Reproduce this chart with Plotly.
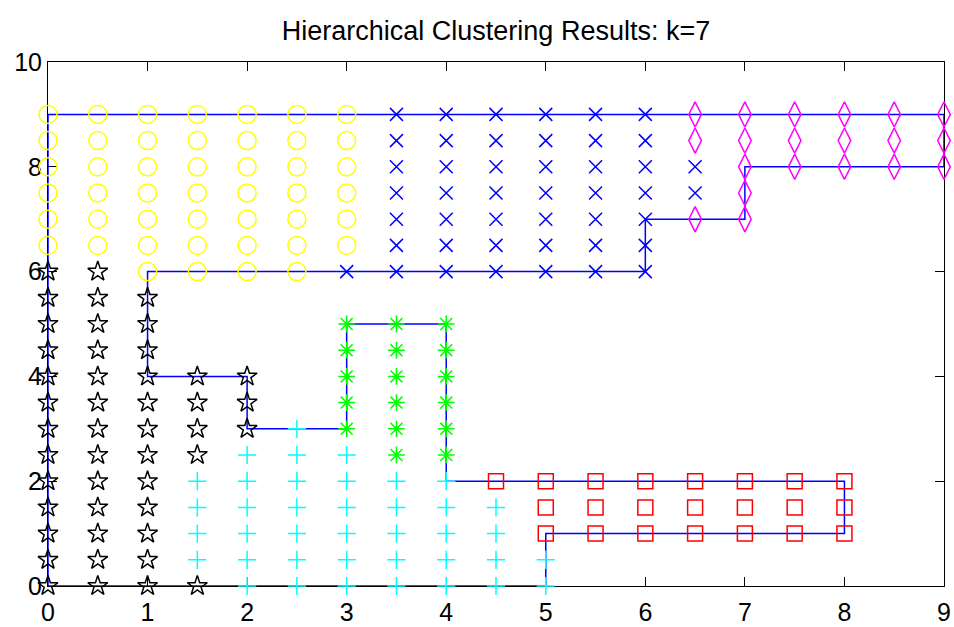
import plotly.graph_objects as go

# ---- data: each cluster given as columns  x -> list of y values ----
yellow_x = [0, 0.5, 1, 1.5, 2, 2.5, 3]
yellow_y = [
    [6.5, 7, 7.5, 8, 8.5, 9],
    [6.5, 7, 7.5, 8, 8.5, 9],
    [6, 6.5, 7, 7.5, 8, 8.5, 9],
    [6, 6.5, 7, 7.5, 8, 8.5, 9],
    [6, 6.5, 7, 7.5, 8, 8.5, 9],
    [6, 6.5, 7, 7.5, 8, 8.5, 9],
    [6.5, 7, 7.5, 8, 8.5, 9],
]

black_x = [0, 0.5, 1, 1.5, 2]
black_y = [
    [0, 0.5, 1, 1.5, 2, 2.5, 3, 3.5, 4, 4.5, 5, 5.5, 6],
    [0, 0.5, 1, 1.5, 2, 2.5, 3, 3.5, 4, 4.5, 5, 5.5, 6],
    [0, 0.5, 1, 1.5, 2, 2.5, 3, 3.5, 4, 4.5, 5, 5.5],
    [0, 2.5, 3, 3.5, 4],
    [3, 3.5, 4],
]

cyan_x = [1.5, 2, 2.5, 3, 3.5, 4, 4.5, 5]
cyan_y = [
    [0.5, 1, 1.5, 2],
    [0, 0.5, 1, 1.5, 2, 2.5],
    [0, 0.5, 1, 1.5, 2, 2.5, 3],
    [0, 0.5, 1, 1.5, 2, 2.5],
    [0, 0.5, 1, 1.5, 2],
    [0, 0.5, 1, 1.5, 2],
    [0, 0.5, 1, 1.5],
    [0, 0.5],
]

green_x = [3, 3.5, 4]
green_y = [
    [3, 3.5, 4, 4.5, 5],
    [2.5, 3, 3.5, 4, 4.5, 5],
    [2.5, 3, 3.5, 4, 4.5, 5],
]

red_x = [4.5, 5, 5.5, 6, 6.5, 7, 7.5, 8]
red_y = [
    [2],
    [1, 1.5, 2],
    [1, 1.5, 2],
    [1, 1.5, 2],
    [1, 1.5, 2],
    [1, 1.5, 2],
    [1, 1.5, 2],
    [1, 1.5, 2],
]

blue_x = [3, 3.5, 4, 4.5, 5, 5.5, 6, 6.5]
blue_y = [
    [6],
    [6, 6.5, 7, 7.5, 8, 8.5, 9],
    [6, 6.5, 7, 7.5, 8, 8.5, 9],
    [6, 6.5, 7, 7.5, 8, 8.5, 9],
    [6, 6.5, 7, 7.5, 8, 8.5, 9],
    [6, 6.5, 7, 7.5, 8, 8.5, 9],
    [6, 6.5, 7, 7.5, 8, 8.5, 9],
    [7.5, 8],
]

magenta_x = [6.5, 7, 7.5, 8, 8.5, 9]
magenta_y = [
    [7, 8.5, 9],
    [7, 7.5, 8, 8.5, 9],
    [8, 8.5, 9],
    [8, 8.5, 9],
    [8, 8.5, 9],
    [8, 8.5, 9],
]

# boundary polygon
border_x = [0, 9, 9, 7, 7, 6, 6, 1, 1, 2, 2, 3, 3, 4, 4, 8, 8, 5, 5, 0, 0]
border_y = [9, 9, 8, 8, 7, 7, 6, 6, 4, 4, 3, 3, 5, 5, 2, 2, 1, 1, 0, 0, 9]

x_ticks = [0, 1, 2, 3, 4, 5, 6, 7, 8, 9]
y_ticks = [0, 2, 4, 6, 8, 10]

title_text = "Hierarchical Clustering Results: k=7"


def flatten(xs, ys):
    px, py = [], []
    for x, col in zip(xs, ys):
        for y in col:
            px.append(x)
            py.append(y)
    return px, py


FONT = "Liberation Sans, Arial, sans-serif"

fig = go.Figure()

fig.add_trace(go.Scatter(x=border_x, y=border_y, mode="lines",
                         line=dict(color="#0000FF", width=1.5),
                         hoverinfo="skip", showlegend=False))

clusters = [
    (yellow_x, yellow_y, "#FFFF00", "circle-open", 18),
    (black_x, black_y, "#000000", "star-open", 15),
    (cyan_x, cyan_y, "#00FFFF", "cross-thin-open", 13),
    (green_x, green_y, "#00FF00", "asterisk-open", 14),
    (red_x, red_y, "#FF0000", "square-open", 15),
    (blue_x, blue_y, "#0000FF", "x-thin-open", 13),
    (magenta_x, magenta_y, "#FF00FF", "diamond-tall-open", 18),
]

for xs, ys, color, symbol, size in clusters:
    px, py = flatten(xs, ys)
    fig.add_trace(go.Scatter(
        x=px, y=py, mode="markers", cliponaxis=False, showlegend=False,
        marker=dict(symbol=symbol, size=size, color=color,
                    line=dict(color=color, width=1.5)),
    ))

axis_common = dict(
    showgrid=False, zeroline=False, showline=True, linecolor="black",
    linewidth=1, mirror="ticks", ticks="inside", ticklen=9,
    tickcolor="black", tickwidth=1, layer="below traces", automargin=False,
    tickfont=dict(family=FONT, size=25, color="black"),
)

fig.update_layout(
    width=954, height=627,
    margin=dict(l=48, r=10, t=62, b=41),
    paper_bgcolor="white", plot_bgcolor="white",
    title=dict(text=title_text, x=496 / 954, xanchor="center",
               y=1 - 31 / 627, yanchor="middle",
               font=dict(family=FONT, size=27, color="black")),
    xaxis=dict(range=[0, 9], tickmode="array", tickvals=x_ticks,
               ticklabelstandoff=4, **axis_common),
    yaxis=dict(range=[0, 10], tickmode="array", tickvals=y_ticks,
               **axis_common),
)

fig.write_html("out.html")
